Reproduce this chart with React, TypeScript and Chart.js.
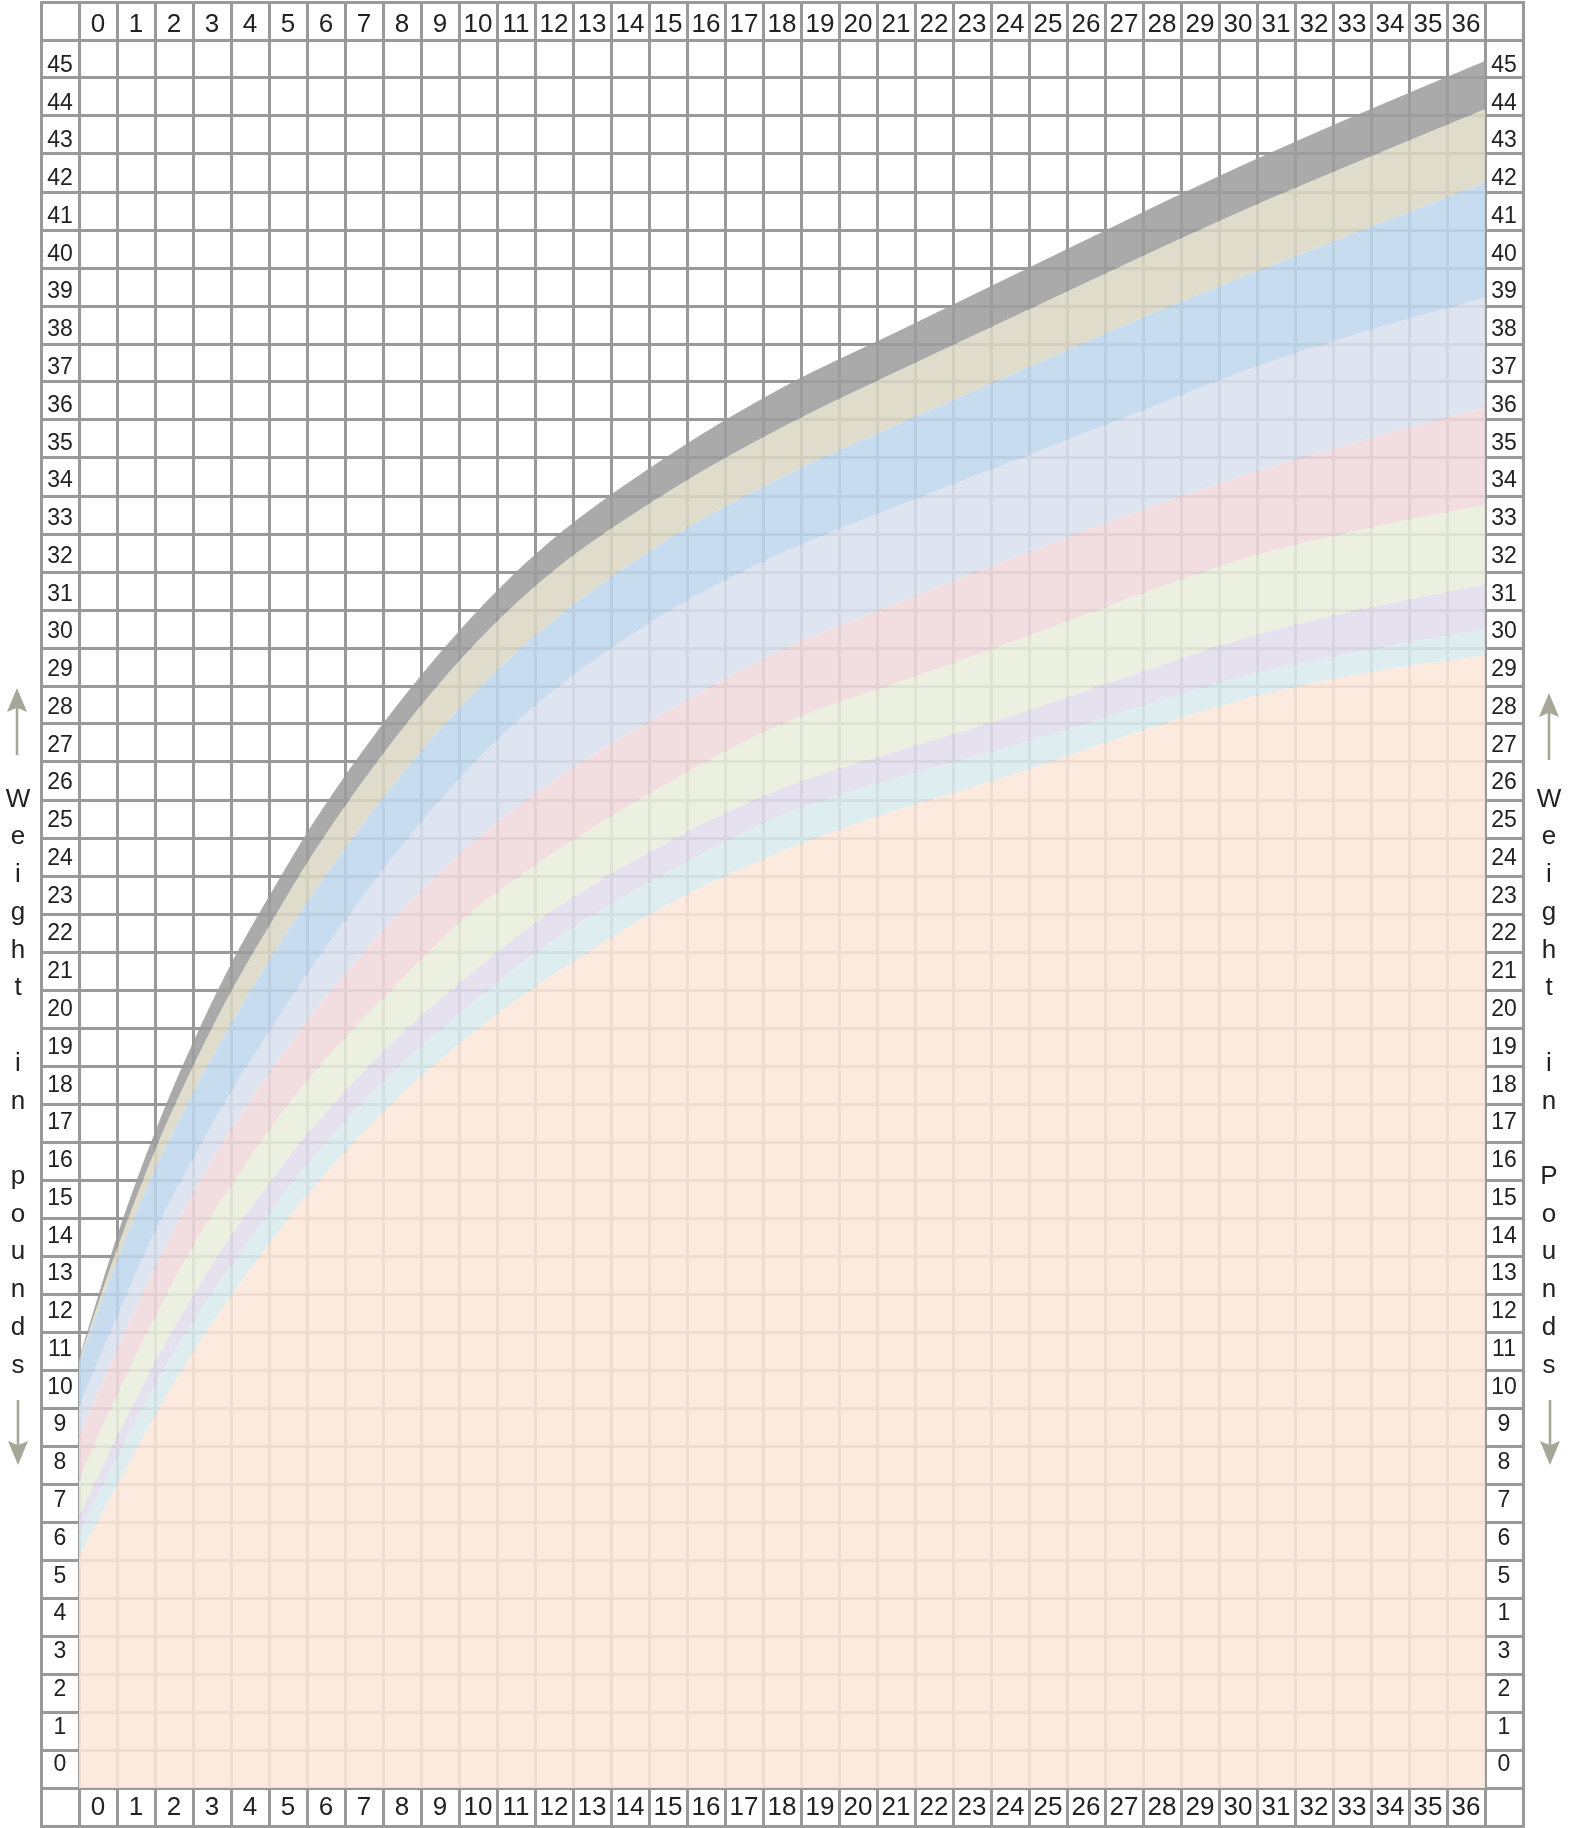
import React, { useEffect, useRef } from 'react';
import { Chart, registerables } from 'chart.js';

Chart.register(...registerables);

// ---------- data ----------
const MONTHS = [0, 1, 2, 3, 4, 5, 6, 8, 10, 12, 15, 18, 21, 24, 27, 30, 33, 36];

const P97 = [11.3, 14.6, 17.4, 19.8, 21.9, 23.7, 25.4, 28.3, 30.75, 32.75, 35.0, 36.85, 38.35, 39.85, 41.35, 42.8, 44.15, 45.45];
const P95 = [11.25, 14.25, 16.9, 19.15, 21.15, 22.9, 24.6, 27.5, 29.95, 31.9, 34.05, 35.8, 37.3, 38.75, 40.2, 41.6, 42.9, 44.18];
const P90 = [11.2, 13.95, 16.4, 18.45, 20.3, 22.0, 23.55, 26.35, 28.7, 30.6, 32.8, 34.5, 35.9, 37.25, 38.6, 39.85, 41.05, 42.25];
const P75 = [10.03, 12.45, 14.75, 16.7, 18.5, 20.1, 21.65, 24.45, 26.85, 28.75, 30.9, 32.5, 33.75, 34.95, 36.15, 37.35, 38.35, 39.22];
const P50 = [9.25, 11.6, 13.8, 15.8, 17.5, 19.0, 20.4, 22.8, 24.8, 26.4, 28.3, 29.95, 31.2, 32.4, 33.55, 34.6, 35.5, 36.33];
const P25 = [8.1, 10.4, 12.5, 14.4, 16.0, 17.5, 18.8, 21.0, 23.0, 24.5, 26.4, 28.0, 29.1, 30.2, 31.35, 32.4, 33.15, 33.76];
const P10 = [7.15, 9.3, 11.3, 13.1, 14.7, 16.1, 17.4, 19.6, 21.4, 23.0, 24.85, 26.3, 27.3, 28.25, 29.3, 30.3, 31.05, 31.68];
const P5 = [6.7, 8.75, 10.7, 12.4, 13.9, 15.3, 16.6, 18.8, 20.6, 22.2, 24.05, 25.6, 26.6, 27.45, 28.4, 29.3, 29.95, 30.49];
const P3 = [6.1, 8.0, 9.9, 11.6, 13.1, 14.5, 15.8, 18.0, 19.8, 21.3, 23.2, 24.65, 25.75, 26.7, 27.75, 28.7, 29.35, 29.8];

// bottom to top
const SERIES = [P3, P5, P10, P25, P50, P75, P90, P95, P97];
const SERIES_NAMES = ['3rd', '5th', '10th', '25th', '50th', '75th', '90th', '95th', '97th'];

const X_LABELS = ['0', '1', '2', '3', '4', '5', '6', '7', '8', '9', '10', '11', '12', '13', '14', '15', '16', '17', '18',
  '19', '20', '21', '22', '23', '24', '25', '26', '27', '28', '29', '30', '31', '32', '33', '34', '35', '36'];

// top to bottom, as shown
const Y_LABELS_LEFT = ['45', '44', '43', '42', '41', '40', '39', '38', '37', '36', '35', '34', '33', '32', '31', '30',
  '29', '28', '27', '26', '25', '24', '23', '22', '21', '20', '19', '18', '17', '16', '15', '14', '13', '12', '11',
  '10', '9', '8', '7', '6', '5', '4', '3', '2', '1', '0'];
const Y_LABELS_RIGHT = ['45', '44', '43', '42', '41', '40', '39', '38', '37', '36', '35', '34', '33', '32', '31', '30',
  '29', '28', '27', '26', '25', '24', '23', '22', '21', '20', '19', '18', '17', '16', '15', '14', '13', '12', '11',
  '10', '9', '8', '7', '6', '5', '1', '3', '2', '1', '0'];

const TITLE_LEFT = 'Weight in pounds';
const TITLE_RIGHT = 'Weight in Pounds';

// ---------- styles ----------
const BAND_COLORS = [
  'rgba(252,231,217,0.87)', // peach
  'rgba(217,236,238,0.87)', // cyan
  'rgba(226,221,236,0.87)', // lavender
  'rgba(233,238,219,0.87)', // green
  'rgba(240,217,219,0.87)', // pink
  'rgba(217,224,238,0.87)', // light blue
  'rgba(192,215,238,0.87)', // blue
  'rgba(219,215,195,0.87)', // tan
  'rgba(157,157,157,0.87)', // gray
];

const W = 1583;
const H = 1828;
const CELL = 38;
const GRID = '#999999';
const TEXT = '#222222';
const FONT = '"Liberation Sans", Arial, Helvetica, sans-serif';
const X_FONT_SIZE = 26;
const Y_FONT_SIZE = 23;
const TITLE_FONT_SIZE = 26;
const ARROW = '#a6a699';

function gridAxis(position: string, max: number, onArea: boolean) {
  const horizontal = position === 'top' || position === 'bottom';
  return {
    type: 'linear',
    position,
    min: 0,
    max,
    weight: 0,
    afterBuildTicks: (s: any) => {
      s.ticks = Array.from({ length: max + 1 }, (_, i) => ({ value: i }));
    },
    afterFit: (s: any) => {
      if (horizontal) s.height = 0;
      else s.width = 0;
    },
    ticks: { display: false },
    grid: {
      display: true,
      color: GRID,
      lineWidth: 3,
      drawOnChartArea: onArea,
      drawTicks: true,
      tickLength: CELL,
    },
    border: { display: false },
  };
}

function xLabelAxis(position: string, labels: string[], padding: number) {
  return {
    type: 'linear',
    position,
    min: 0,
    max: labels.length,
    weight: 1,
    afterBuildTicks: (s: any) => {
      s.ticks = labels.map((_, i) => ({ value: i + 0.5 }));
    },
    afterFit: (s: any) => {
      s.height = CELL;
    },
    grid: { display: false, drawTicks: false, drawOnChartArea: false },
    border: { display: false },
    ticks: {
      autoSkip: false,
      maxRotation: 0,
      minRotation: 0,
      padding,
      color: TEXT,
      font: { family: FONT, size: X_FONT_SIZE, lineHeight: 1 },
      callback: (_v: any, i: number) => labels[i],
    },
  };
}

function yLabelAxis(position: string, labels: string[]) {
  const n = labels.length;
  return {
    type: 'linear',
    position,
    min: 0,
    max: n,
    weight: 1,
    afterBuildTicks: (s: any) => {
      // label of row k sits slightly off the row centre (as in the reference)
      s.ticks = labels.map((_, k) => ({ value: k + 0.605 - 0.00613 * k }));
    },
    afterFit: (s: any) => {
      s.width = CELL;
    },
    grid: { display: false, drawTicks: false, drawOnChartArea: false },
    border: { display: false },
    ticks: {
      autoSkip: false,
      crossAlign: 'center',
      padding: CELL / 2 - 0.556 * Y_FONT_SIZE,
      color: TEXT,
      font: { family: FONT, size: Y_FONT_SIZE, lineHeight: 1 },
      callback: (_v: any, k: number) => labels[n - 1 - k],
    },
  };
}

function drawArrow(ctx: CanvasRenderingContext2D, x: number, yTail: number, yTip: number) {
  const dir = yTip < yTail ? -1 : 1;
  const headLen = 24;
  const headHalf = 10;
  ctx.save();
  ctx.strokeStyle = ARROW;
  ctx.fillStyle = ARROW;
  ctx.lineWidth = 2.6;
  ctx.beginPath();
  ctx.moveTo(x, yTail);
  ctx.lineTo(x, yTip - dir * headLen * 0.8);
  ctx.stroke();
  ctx.beginPath();
  ctx.moveTo(x, yTip);
  ctx.lineTo(x - headHalf, yTip - dir * headLen);
  ctx.lineTo(x, yTip - dir * headLen * 0.82);
  ctx.lineTo(x + headHalf, yTip - dir * headLen);
  ctx.closePath();
  ctx.fill();
  ctx.restore();
}

const framePlugin = {
  id: 'tableFrame',
  afterDraw(chart: any) {
    const ctx: CanvasRenderingContext2D = chart.ctx;
    const { left, right, top, bottom } = chart.chartArea;
    const x0 = left - CELL;
    const x1 = right + CELL;
    const y0 = top - CELL;
    const y1 = bottom + CELL;
    ctx.save();
    ctx.strokeStyle = GRID;
    ctx.lineWidth = 3;
    ctx.strokeRect(x0 + 0.5, y0 + 0.5, x1 - x0, y1 - y0);

    // vertical side titles, one letter per line
    ctx.fillStyle = TEXT;
    ctx.font = `${TITLE_FONT_SIZE}px ${FONT}`;
    ctx.textAlign = 'center';
    ctx.textBaseline = 'alphabetic';
    const baseY = 806.7;
    const step = 37.73;
    const leftX = x0 - 23;
    const rightX = x1 + 26;
    TITLE_LEFT.split('').forEach((ch, i) => {
      if (ch !== ' ') ctx.fillText(ch, leftX, baseY + i * step);
    });
    TITLE_RIGHT.split('').forEach((ch, i) => {
      if (ch !== ' ') ctx.fillText(ch, rightX, baseY + i * step);
    });
    ctx.restore();

    drawArrow(ctx, leftX - 1, 755, 688);
    drawArrow(ctx, leftX, 1400, 1465);
    drawArrow(ctx, rightX, 760, 693);
    drawArrow(ctx, rightX + 1, 1400, 1465);
  },
};

export default function App() {
  const ref = useRef<HTMLCanvasElement | null>(null);

  useEffect(() => {
    const canvas = ref.current;
    if (!canvas) return;

    const datasets = SERIES.map((vals, i) => ({
      label: SERIES_NAMES[i],
      data: MONTHS.map((m, j) => ({ x: m, y: vals[j] })),
      xAxisID: 'x',
      yAxisID: 'y',
      borderWidth: 0,
      borderColor: 'rgba(0,0,0,0)',
      backgroundColor: BAND_COLORS[i],
      pointRadius: 0,
      pointHoverRadius: 0,
      cubicInterpolationMode: 'monotone',
      fill: i === 0 ? 'origin' : '-1',
    }));

    const chart = new Chart(canvas, {
      type: 'line',
      data: { datasets } as any,
      options: {
        responsive: false,
        maintainAspectRatio: false,
        devicePixelRatio: 1,
        animation: false,
        events: [],
        layout: { padding: { left: 41, right: W - 1523, top: 2, bottom: 2 } },
        plugins: {
          legend: { display: false },
          tooltip: { enabled: false },
          title: { display: false },
          filler: { propagate: false },
        },
        scales: {
          x: { type: 'linear', min: 0, max: 36, display: false },
          y: { type: 'linear', min: 0, max: 46, display: false },
          gx: gridAxis('top', X_LABELS.length, true),
          gxB: gridAxis('bottom', X_LABELS.length, false),
          gy: gridAxis('left', Y_LABELS_LEFT.length, true),
          gyR: gridAxis('right', Y_LABELS_RIGHT.length, false),
          xTop: xLabelAxis('top', X_LABELS, 2),
          xBottom: xLabelAxis('bottom', X_LABELS, 7),
          yLeft: yLabelAxis('left', Y_LABELS_LEFT),
          yRight: yLabelAxis('right', Y_LABELS_RIGHT),
        } as any,
      },
      plugins: [framePlugin],
    } as any);

    return () => chart.destroy();
  }, []);

  return (
    <div style={{ position: 'absolute', left: 0, top: 0, width: W, height: H, background: '#fff' }}>
      <canvas ref={ref} width={W} height={H} style={{ display: 'block', width: W, height: H }} />
    </div>
  );
}
